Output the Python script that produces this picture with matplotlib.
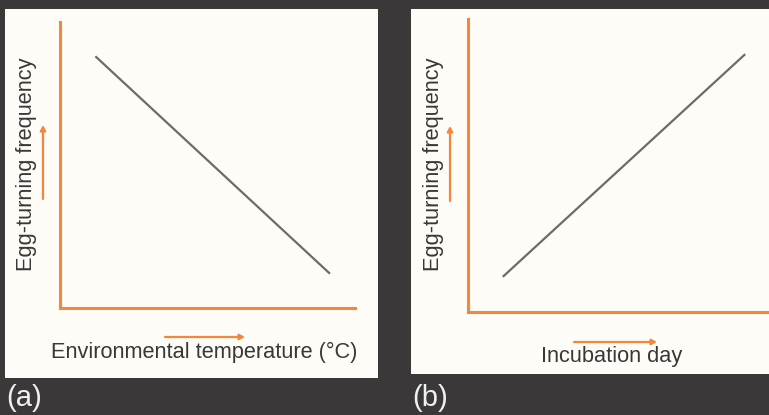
import matplotlib.pyplot as plt
from matplotlib.patches import Rectangle, FancyArrowPatch

# relative positions along each axis (0 = origin, 1 = end of axis)
temperature = [0.12, 0.915]
freq_a = [0.88, 0.12]
incubation_day = [0.117, 0.921]
freq_b = [0.12, 0.88]

xlabels = ['Environmental temperature (°C)', 'Incubation day']
ylabel = 'Egg-turning frequency'
panel_tags = ['(a)', '(b)']

W, H = 769, 415
bg = '#3a3839'
cream = '#fdfcf6'
orange = '#f5873c'
line_gray = '#6e6b69'
text_col = '#383838'

plt.rcParams['font.family'] = ['Liberation Sans', 'DejaVu Sans']

fig = plt.figure(figsize=(W / 100, H / 100), dpi=100, facecolor=bg)


def fx(x):
    return x / W


def fy(y):
    return 1 - y / H


# cream panels
for x0, y0, x1, y1 in [(5, 9, 378, 378), (411, 9, 769, 374)]:
    fig.patches.append(Rectangle((fx(x0), fy(y1)), fx(x1) - fx(x0), fy(y0) - fy(y1),
                                 transform=fig.transFigure, facecolor=cream,
                                 edgecolor='none', zorder=-5))

# axes boxes in pixels: left, top, right, bottom
boxes = [(60, 22, 355, 308), (467.5, 19, 769, 312)]
series = [(temperature, freq_a), (incubation_day, freq_b)]

for (l, t, r, b), (xs, ys) in zip(boxes, series):
    ax = fig.add_axes([fx(l), fy(b), fx(r) - fx(l), fy(t) - fy(b)])
    ax.set_facecolor('none')
    ax.set_xlim(0, 1)
    ax.set_ylim(0, 1)
    for s in ['top', 'right']:
        ax.spines[s].set_visible(False)
    for s in ['left', 'bottom']:
        ax.spines[s].set_color(orange)
        ax.spines[s].set_linewidth(2.2)
    ax.set_xticks([])
    ax.set_yticks([])
    ax.plot(xs, ys, color=line_gray, lw=1.6, solid_capstyle='butt')

# direction arrows
arrows = [
    ((43, 199), (43, 125)), ((165, 337), (245, 337)),
    ((450, 201), (450, 126)), ((574, 342), (657, 342)),
]
for (x0, y0), (x1, y1) in arrows:
    fig.patches.append(FancyArrowPatch(
        (fx(x0), fy(y0)), (fx(x1), fy(y1)), transform=fig.transFigure,
        arrowstyle='-|>,head_length=3,head_width=1.6', color=orange, lw=1.6,
        shrinkA=0, shrinkB=0))

# axis labels
fig.text(fx(204), fy(352), xlabels[0], ha='center', va='center', fontsize=15.7, color=text_col)
fig.text(fx(612), fy(356), xlabels[1], ha='center', va='center', fontsize=15.7, color=text_col)
fig.text(fx(27), fy(164), ylabel, ha='center', va='center', rotation=90, fontsize=15.7, color=text_col)
fig.text(fx(433), fy(164), ylabel, ha='center', va='center', rotation=90, fontsize=15.7, color=text_col)

# panel tags
fig.text(fx(6), fy(398), panel_tags[0], ha='left', va='center', fontsize=21, color='#f0f0f0')
fig.text(fx(412), fy(398), panel_tags[1], ha='left', va='center', fontsize=21, color='#f0f0f0')

fig.savefig('out.png', dpi=100, facecolor=bg)
